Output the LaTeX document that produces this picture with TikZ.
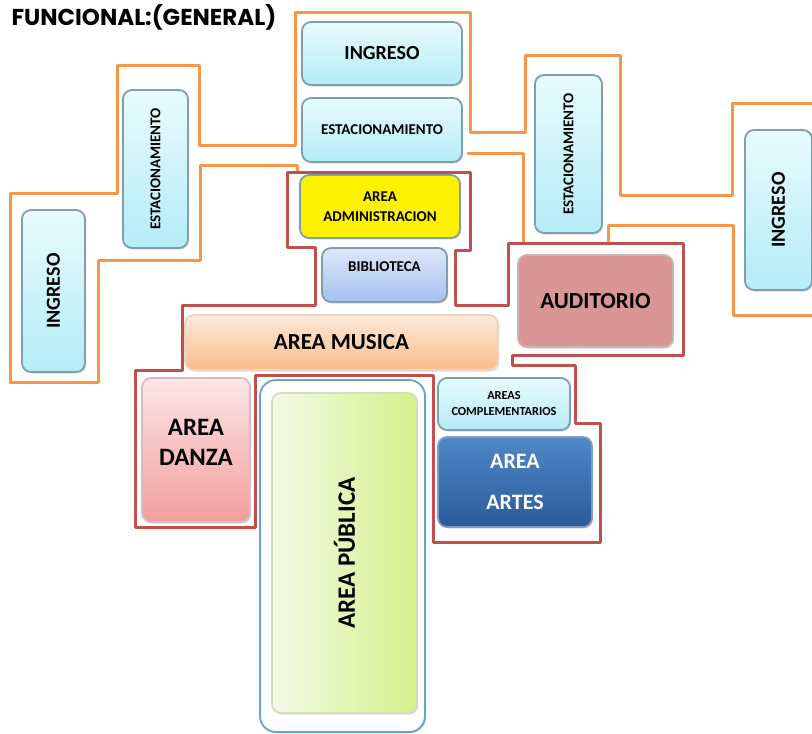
\documentclass[tikz,border=0pt]{standalone}
\usepackage{fontspec}
\setmainfont{Carlito}
\newfontfamily\titlefont{Poppins}
\usetikzlibrary{shadows}
\definecolor{lineorange}{HTML}{F79646}
\definecolor{linered}{HTML}{C0504D}
\definecolor{boxedge}{HTML}{7F9FAE}
\definecolor{cyantop}{HTML}{E8FBFE}
\definecolor{cyanbot}{HTML}{B4ECF6}
\definecolor{bibtop}{HTML}{DDE7F9}
\definecolor{bibbot}{HTML}{A6C2EE}
\definecolor{mustop}{HTML}{FDE9D9}
\definecolor{musbot}{HTML}{F9BD8C}
\definecolor{audfill}{HTML}{D99694}
\definecolor{dantop}{HTML}{FDE6E6}
\definecolor{danbot}{HTML}{F29E9E}
\definecolor{arttop}{HTML}{5088C8}
\definecolor{artbot}{HTML}{2B5A9A}
\definecolor{publeft}{HTML}{F3FAE6}
\definecolor{pubright}{HTML}{D6EF8A}
\definecolor{pubedge}{HTML}{5FA8C8}

\begin{document}
\begin{tikzpicture}[x=1pt, y=-1pt,
  area/.style = {shape=rectangle, rounded corners=9pt, draw=boxedge,
    line width=1.8pt, align=center, inner sep=2pt,
    drop shadow={opacity=0.3, shadow xshift=1.2pt, shadow yshift=-1.5pt}},
  cyanbox/.style = {area, top color=cyantop, bottom color=cyanbot},
  wall/.style = {line width=3pt, line join=round, line cap=round},
  big/.style = {font=\bfseries\fontsize{20}{24}\selectfont},
  bigger/.style = {font=\bfseries\fontsize{23}{28}\selectfont},
  mid/.style = {font=\bfseries\fontsize{15}{20}\selectfont}]
  \useasboundingbox (0,0) rectangle (812,734);
  \node[anchor=west, font=\titlefont\bfseries\fontsize{23}{26}\selectfont] (title) at (8,17) {FUNCIONAL:(GENERAL)};

  \draw[wall, lineorange] (10,382) -- (10,193) -- (117,193) -- (117,65) -- (199,65) -- (199,145)
    -- (295,145) -- (295,12) -- (470,12) -- (470,132) -- (525,132) -- (525,55) -- (620,55)
    -- (620,195) -- (732,195) -- (732,103) -- (815,103);
  \draw[wall, lineorange] (98,382) -- (10,382);
  \draw[wall, lineorange] (98,382) -- (98,260) -- (200,260) -- (200,165) -- (297,165) -- (297,172);
  \draw[wall, lineorange] (468,153) -- (523,153) -- (523,243);
  \draw[wall, lineorange] (608,243) -- (608,225) -- (733,225) -- (733,315) -- (815,315);
  \draw[wall, linered] (287,172) -- (470,172) -- (470,250) -- (455,250) -- (455,305) -- (508,305)
    -- (508,243) -- (683,243) -- (683,355) -- (512,355) -- (512,365) -- (575,365) -- (575,423)
    -- (600,423) -- (600,542) -- (433,542) -- (433,375) -- (255,375) -- (255,527) -- (135,527)
    -- (135,370) -- (182,370) -- (182,305) -- (315,305) -- (315,247) -- (287,247) -- cycle;

  \node[cyanbox, big, minimum width=160pt, minimum height=63pt] (ingresoT) at (382,53.5) {INGRESO};
  \node[cyanbox, mid, minimum width=160pt, minimum height=64pt] (estacT) at (382,130) {ESTACIONAMIENTO};
  \node[area, mid, fill=yellow, minimum width=160pt, minimum height=63pt] (admin) at (380,206.5) {AREA\\ADMINISTRACION};
  \node[area, mid, top color=bibtop, bottom color=bibbot, minimum width=125pt, minimum height=54pt] (biblio) at (384.5,275) {BIBLIOTECA\\[-4pt]};
  \node[area, bigger, top color=mustop, bottom color=musbot, draw=musbot!80!black!40, minimum width=313pt, minimum height=55pt] (musica) at (341.5,342.5) {AREA MUSICA};
  \node[cyanbox, mid, rotate=90, minimum width=158pt, minimum height=65pt] (estacL) at (155.5,169) {ESTACIONAMIENTO};
  \node[cyanbox, big, rotate=90, minimum width=162pt, minimum height=63pt] (ingresoL) at (53.5,291) {INGRESO};
  \node[cyanbox, mid, rotate=90, minimum width=158pt, minimum height=67pt] (estacR) at (568.5,154) {ESTACIONAMIENTO};
  \node[cyanbox, big, rotate=90, minimum width=160pt, minimum height=67pt] (ingresoR) at (778.5,210) {INGRESO};
  \node[area, bigger, fill=audfill, draw=audfill!70!black!50, minimum width=155pt, minimum height=92pt] (audit) at (595.5,301) {AUDITORIO};
  \node[cyanbox, font=\bfseries\fontsize{12.3}{16}\selectfont, minimum width=132pt, minimum height=52pt] (compl) at (504,404) {AREAS\\COMPLEMENTARIOS};
  \node[area, font=\bfseries\fontsize{22}{41}\selectfont, text=white, top color=arttop, bottom color=artbot, draw=artbot!60, minimum width=154pt, minimum height=90pt] (artes) at (515,482) {AREA\\ARTES};
  \node[area, font=\bfseries\fontsize{25}{30}\selectfont, top color=dantop, bottom color=danbot, draw=danbot!60!black!40, minimum width=108pt, minimum height=144pt] (danza) at (196,450) {AREA\\DANZA\\[-14pt]};
  \node[area, draw=pubedge, fill=white, rounded corners=16pt, minimum width=165pt, minimum height=352pt] (publicaO) at (342.5,556) {};
  \node[area, font=\bfseries\fontsize{25}{30}\selectfont, rotate=90, left color=publeft, right color=pubright, draw=pubright!70!black!40, minimum width=320pt, minimum height=145pt] (publica) at (344.5,553) {AREA PÚBLICA};
\end{tikzpicture}
\end{document}
